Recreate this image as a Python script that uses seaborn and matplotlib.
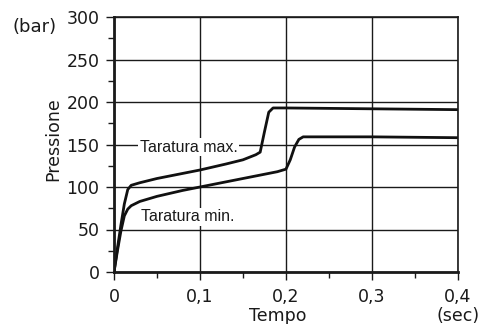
import matplotlib
matplotlib.use('Agg')
from matplotlib import pyplot as plt
from matplotlib.ticker import MultipleLocator, FuncFormatter
import seaborn as sns

# curva taratura max.
t_max = [0, 0.004, 0.008, 0.012, 0.016, 0.02, 0.03, 0.05, 0.08, 0.1, 0.13, 0.15,
         0.165, 0.17, 0.175, 0.18, 0.185, 0.2, 0.3, 0.4]
p_max = [0, 28, 55, 80, 97, 102, 105, 110, 116, 120, 127, 132,
         138, 141, 165, 188, 193, 193, 192, 191]

# curva taratura min.
t_min = [0, 0.004, 0.008, 0.012, 0.016, 0.02, 0.03, 0.05, 0.08, 0.1, 0.13, 0.16,
         0.19, 0.2, 0.205, 0.21, 0.215, 0.22, 0.3, 0.4]
p_min = [0, 25, 48, 66, 74, 78, 83, 89, 96, 100, 106, 112,
         118, 121, 132, 147, 156, 159, 159, 158]

labels = ['Taratura max.', 'Taratura min.']

sns.set_style('ticks')
plt.rcParams['font.family'] = ['DejaVu Sans']

fig = plt.figure(figsize=(4.78, 3.24), dpi=100)
ax = fig.add_axes([0.2385, 0.1605, 0.7195, 0.787])

sns.lineplot(x=t_max, y=p_max, ax=ax, color='#111111', lw=2, sort=False)
sns.lineplot(x=t_min, y=p_min, ax=ax, color='#111111', lw=2, sort=False)

ax.set_xlim(0, 0.4)
ax.set_ylim(0, 300)
ax.xaxis.set_major_locator(MultipleLocator(0.1))
ax.xaxis.set_minor_locator(MultipleLocator(0.05))
ax.yaxis.set_major_locator(MultipleLocator(50))
ax.yaxis.set_minor_locator(MultipleLocator(25))
ax.xaxis.set_major_formatter(FuncFormatter(lambda v, p: '0' if v == 0 else f'{v:.1f}'.replace('.', ',')))
ax.grid(True, which='major', color='#1a1a1a', lw=1)
ax.set_axisbelow(True)

ax.tick_params(which='major', direction='out', length=5.5, width=1, labelsize=12.5,
               colors='#1a1a1a')
ax.tick_params(axis='x', which='major', pad=6)
ax.tick_params(axis='y', which='major', pad=5)
ax.tick_params(which='minor', direction='out', length=4.5, width=1, colors='#1a1a1a')

for side in ['left', 'bottom']:
    ax.spines[side].set_linewidth(2)
for side in ['top', 'right']:
    ax.spines[side].set_linewidth(1.2)
for s in ax.spines.values():
    s.set_color('#1a1a1a')

ax.set_xlabel('Tempo', fontsize=12.5, color='#1a1a1a')
ax.xaxis.set_label_coords(0.475, -0.137)
ax.xaxis.label.set_va('top')
ax.set_ylabel('Pressione', fontsize=12.5, color='#1a1a1a')
ax.yaxis.set_label_coords(-0.15, 0.52)

fig.text(12 / 478, 1 - 27 / 324, '(bar)', fontsize=13, color='#1a1a1a', ha='left', va='center')
ax.text(1.0, -0.137, '(sec)', transform=ax.transAxes, fontsize=12.5, color='#1a1a1a',
        ha='center', va='top')

box = dict(facecolor='white', edgecolor='none', pad=1)
ax.text(0.087, 147, labels[0], fontsize=11.5, family='Liberation Sans', color='#1a1a1a',
        ha='center', va='center', bbox=box)
ax.text(0.086, 65, labels[1], fontsize=11.5, family='Liberation Sans', color='#1a1a1a',
        ha='center', va='center', bbox=box)

fig.savefig('out.png', dpi=100, facecolor='white')
